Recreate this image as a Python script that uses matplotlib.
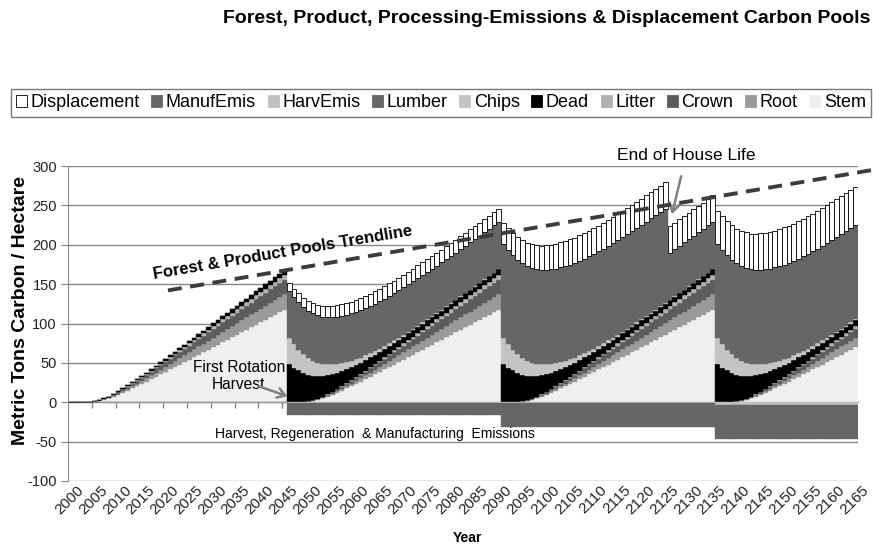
import numpy as np
import matplotlib
matplotlib.use('Agg')
import matplotlib.pyplot as plt
from matplotlib.patches import Patch
import matplotlib.transforms as mtransforms

plt.rcParams['font.family'] = ['Liberation Sans', 'DejaVu Sans']
plt.rcParams['axes.unicode_minus'] = False

# ---- data ----
years = np.arange(2000, 2166)
planting = [2001, 2046, 2091, 2136]      # a new stand starts in each of these years
harvest_years = [2046, 2091, 2136]
house_life = 80
lumber_per_harvest = 60

# forest pools by stand age 0..44 (t C / ha)
stem_by_age = [0, 0, 0, 0.2, 0.7, 1.7, 3.1, 4.9, 7, 9.4, 11.9, 14.7, 17.5, 20.3, 23.1,
               25.9, 29, 32.2, 35.3, 38.5, 41.6, 44.8, 47.9, 51.1, 54.2, 57.4, 60.5, 63.7,
               66.8, 70, 73.1, 76.3, 79.4, 82.6, 85.7, 88.9, 92, 95.2, 98.3, 101.5, 104.6,
               107.8, 110.9, 114.1, 117.2]
root_by_age = [0, 0, 0, 0, 0.1, 0.3, 0.5, 0.8, 1.2, 1.6, 2, 2.5, 3, 3.5, 4, 4.4, 5, 5.5,
               6.1, 6.6, 7.1, 7.7, 8.2, 8.8, 9.3, 9.8, 10.4, 10.9, 11.5, 12, 12.5, 13.1,
               13.6, 14.2, 14.7, 15.2, 15.8, 16.3, 16.9, 17.4, 17.9, 18.5, 19, 19.6, 20.1]
crown_by_age = [0, 0, 0, 0.1, 0.2, 0.5, 0.9, 1.2, 1.6, 2, 2.4, 2.8, 3.2, 3.6, 4, 4.4, 4.8,
                5.2, 5.6, 6, 6.5, 7, 7.5, 8, 8.5, 9, 9.5, 10, 10.5, 11, 11.5, 12, 12.5, 13,
                13.5, 14, 14.5, 15, 15.5, 16, 16.5, 17, 17.4, 17.9, 18.4]
litter_by_age = [0, 0, 0, 0, 0, 0.1, 0.2, 0.2, 0.3, 0.5, 0.6, 0.7, 0.9, 1, 1.2, 1.3, 1.5,
                 1.6, 1.8, 1.9, 2.1, 2.2, 2.4, 2.6, 2.7, 2.9, 3, 3.2, 3.3, 3.5, 3.7, 3.8, 4,
                 4.1, 4.3, 4.4, 4.6, 4.8, 4.9, 5.1, 5.2, 5.4, 5.5, 5.7, 5.9]
dead_by_age = [0, 0, 0, 0, 0, 0.1, 0.1, 0.2, 0.3, 0.4, 0.6, 0.7, 0.9, 1, 1.2, 1.3, 1.5,
               1.6, 1.8, 1.9, 2.1, 2.3, 2.5, 2.6, 2.8, 3, 3.1, 3.3, 3.5, 3.6, 3.8, 4, 4.1,
               4.3, 4.5, 4.6, 4.8, 5, 5.2, 5.3, 5.5, 5.7, 5.8, 6, 6.2]

# harvest residues by years since harvest 0..44
slash_by_age = [48, 44, 40.4, 37, 33.9, 31.1, 28.5, 26.1, 24, 22, 20.1, 18.5, 16.9, 15.5,
                14.2, 13, 11.9, 10.9, 10, 9.2, 8.4, 7.7, 7.1, 6.5, 5.9, 5.4, 5, 4.6, 4.2,
                3.8, 3.5, 3.2, 2.9, 2.7, 2.5, 2.3, 2.1, 1.9, 1.7, 1.6, 1.5, 1.3, 1.2, 1.1, 1.05]
chips_by_age = [33, 29.6, 26.5, 23.7, 21.3, 19.1, 17.1, 15.3, 13.7, 12.3, 11, 9.9, 8.8, 7.9,
                7.1, 6.4, 5.7, 5.1, 4.6, 4.1, 3.7, 3.3, 3, 2.6, 2.4, 2.1, 1.9, 1.7, 1.5,
                1.4, 1.2, 1.1, 1, 0.9, 0.8, 0.7, 0.6, 0.6, 0.5, 0.5, 0.4, 0.4, 0.3, 0.3, 0.3]
disp_growth = [0, 0.7, 1.3, 1.9, 2.3, 2.8, 3.2, 3.5, 3.9, 4.1, 4.4, 4.6, 4.8, 5, 5.2, 5.3,
               5.5, 5.6, 5.7, 5.8, 5.9, 5.9, 6, 6.1, 6.1, 6.2, 6.2, 6.3, 6.3, 6.3, 6.4, 6.4,
               6.4, 6.4, 6.4, 6.5, 6.5, 6.5, 6.5, 6.5, 6.5, 6.5, 6.5, 6.5, 6.5]

# per rotation (before 1st harvest, after 1st, 2nd, 3rd)
disp_base = [0, 10, 27, 42]
harv_emis = [0, -0.5, -1.5, -3]
manuf_emis = [0, -16.3, -31.5, -47]

trend_x = [2020.5, 2168.6]
trend_y = [142, 295]

# ---- assemble yearly series ----
rot = np.searchsorted(harvest_years, years, side='right')
age = np.clip(years - np.array(planting)[rot], 0, 44)
after = rot >= 1

stem = np.array(stem_by_age)[age]
root = np.array(root_by_age)[age]
crown = np.array(crown_by_age)[age]
litter = np.array(litter_by_age)[age]
dead = np.array(dead_by_age)[age] + np.where(after, np.array(slash_by_age)[age], 0)
chips = np.where(after, np.array(chips_by_age)[age], 0)
lumber = np.zeros(len(years))
for h in harvest_years:
    lumber += lumber_per_harvest * ((years >= h) & (years < h + house_life))
displacement = np.where(after, np.array(disp_base)[rot] + np.array(disp_growth)[age], 0)
harvemis = np.array(harv_emis)[rot]
manufemis = np.array(manuf_emis)[rot]

# ---- plot ----
fig = plt.figure(figsize=(8.73, 5.46), dpi=100)
ax = fig.add_axes([68 / 873, 1 - 481 / 546, 790 / 873, 315 / 546])

pos = [('Stem', stem, '#efefef'), ('Root', root, '#9a9a9a'), ('Crown', crown, '#5c5c5c'),
       ('Litter', litter, '#b2b2b2'), ('Dead', dead, '#000000'), ('Chips', chips, '#c4c4c4'),
       ('Lumber', lumber, '#666666')]
bottom = np.zeros(len(years))
for name, vals, col in pos:
    ax.bar(years, vals, bottom=bottom, width=1.0, color=col, edgecolor=col, linewidth=0.3)
    bottom = bottom + vals
ax.bar(years, displacement, bottom=bottom, width=1.0, color='white', edgecolor='black',
       linewidth=0.6)

ax.bar(years, harvemis, width=1.0, color='#c0c0c0', edgecolor='#c0c0c0', linewidth=0.3)
ax.bar(years, manufemis - harvemis, bottom=harvemis, width=1.0, color='#666666',
       edgecolor='#666666', linewidth=0.3)

ax.plot(trend_x, trend_y, color='#3c3c3c', lw=2.8, linestyle=(0, (3.6, 2.2)),
        clip_on=False, zorder=5)

ax.set_xlim(1999.5, 2165.5)
ax.set_ylim(-100, 300)
ax.set_yticks(np.arange(-100, 301, 50))
ax.yaxis.grid(True, color='#868686', lw=1.0)
ax.set_axisbelow(True)
for s in ['top', 'right', 'bottom']:
    ax.spines[s].set_visible(False)
ax.spines['left'].set_color('#868686')
ax.tick_params(axis='y', direction='out', length=5, color='#868686', labelsize=10.5,
               labelcolor='#222222', pad=3)

ax.set_xticks(years[::5])
ax.set_xticklabels([str(y) for y in years[::5]], rotation=45, ha='right', va='center',
                   rotation_mode='anchor', fontsize=11, color='#222222')
ax.tick_params(axis='x', length=0, pad=5)
offset = mtransforms.ScaledTranslation(11 / 100, 0, fig.dpi_scale_trans)
for lab in ax.get_xticklabels():
    lab.set_transform(lab.get_transform() + offset)

zero_axis = ax.secondary_xaxis(0.25)
zero_axis.set_xticks(np.arange(2004.5, 2166, 5))
zero_axis.set_xticklabels([])
zero_axis.tick_params(direction='out', length=4, color='#868686', width=1)
zero_axis.spines['bottom'].set_color('#868686')

ax.text(2044.7, 190.5, 'Forest & Product Pools Trendline', rotation=9.6,
        rotation_mode='anchor', ha='center', va='center', fontsize=12, weight='bold',
        color='black')
ax.annotate('End of House Life', xy=(2126.4, 238.7), xytext=(2129.4, 313.7),
            ha='center', va='center', fontsize=12.5, annotation_clip=False,
            arrowprops=dict(arrowstyle='->,head_length=0.5,head_width=0.3',
                            color='#808080', lw=1.8, shrinkA=8, shrinkB=0))
ax.text(2035.4, 33, 'First Rotation\nHarvest', ha='center', va='center', fontsize=11.2,
        linespacing=1.15)
ax.annotate('', xy=(2045.6, 7.6), xytext=(2039.6, 20.3),
            arrowprops=dict(arrowstyle='->,head_length=0.55,head_width=0.35',
                            color='#808080', lw=1.8, shrinkA=0, shrinkB=0))
ax.text(2064, -40.6, 'Harvest, Regeneration  & Manufacturing  Emissions', ha='center',
        va='center', fontsize=10)

fig.text(0.997, 0.966, 'Forest, Product, Processing-Emissions & Displacement Carbon Pools',
         ha='right', va='center', fontsize=14, weight='bold')
fig.text(0.023, 0.432, 'Metric Tons Carbon / Hectare', rotation=90, ha='center',
         va='center', fontsize=14, weight='bold')
fig.text(467 / 873, 1 - 538 / 546, 'Year', ha='center', va='center', fontsize=10,
         weight='bold')

colors = {'Displacement': 'white', 'ManufEmis': '#666666', 'HarvEmis': '#c0c0c0',
          'Lumber': '#666666', 'Chips': '#c4c4c4', 'Dead': '#000000', 'Litter': '#b2b2b2',
          'Crown': '#5c5c5c', 'Root': '#9a9a9a', 'Stem': '#efefef'}
handles = [Patch(facecolor=c, edgecolor='black' if n == 'Displacement' else c, lw=0.6,
                 label=n) for n, c in colors.items()]
leg = fig.legend(handles=handles, loc='center', bbox_to_anchor=(0.505, 0.812), ncol=10,
                 fontsize=13, handlelength=0.6, handleheight=0.6, handletextpad=0.2,
                 columnspacing=0.65, borderpad=0.3, fancybox=False, frameon=True)
leg.get_frame().set_edgecolor('#555555')
leg.get_frame().set_linewidth(1.0)

fig.savefig('out.png', dpi=100)
